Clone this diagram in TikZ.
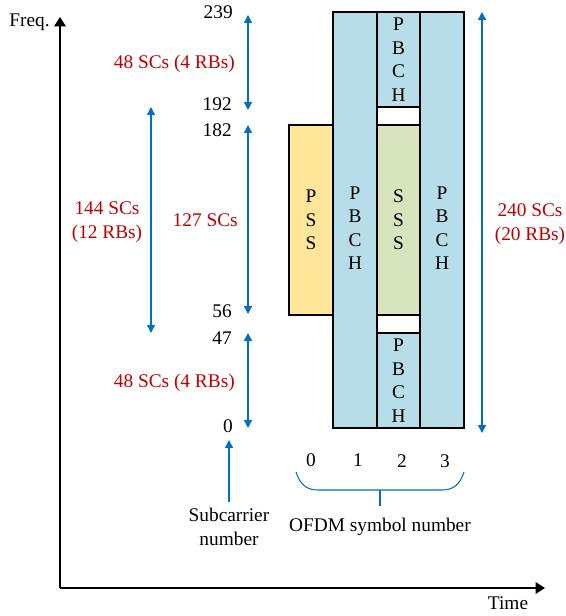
\documentclass[tikz,border=0pt]{standalone}
\usepackage{fontspec}
\setmainfont{Liberation Serif}
\usetikzlibrary{arrows.meta}
\definecolor{sblue}{HTML}{0070C0}
\definecolor{sred}{HTML}{C00000}
\definecolor{pbchc}{HTML}{B7DDE8}
\definecolor{pssc}{HTML}{FFE699}
\definecolor{sssc}{HTML}{D7E4BD}
\tikzset{
  txt/.style={font=\fontsize{14.5}{17.6}\selectfont, inner sep=0pt},
  num/.style={txt, anchor=east},
  redlbl/.style={txt, text=sred, align=center},
  stack/.style={txt, align=center},
  blk/.style={draw=black, line width=1.1pt, inner sep=0pt, minimum width=33pt},
  dimarrow/.style={draw=sblue, line width=1pt, {Triangle[width=6pt,length=6pt]}-{Triangle[width=6pt,length=6pt]}},
  uparrow/.style={draw=sblue, line width=1pt, -{Triangle[width=6pt,length=6pt]}},
  axisline/.style={line width=1.5pt, -{Triangle[width=8.5pt,length=7pt]}},
  bracestyle/.style={draw=sblue, line width=0.8pt}
}
\begin{document}
\begin{tikzpicture}[x=0.75pt, y=-0.75pt]
\useasboundingbox (0,0) rectangle (566,616);

% axes
\coordinate (origin) at (60,588);
\coordinate (ftop) at (60,17);
\coordinate (tend) at (545,588);
\draw[axisline] (origin) -- (ftop);
\draw[axisline] (origin) -- (tend);
\node[txt, anchor=east] (freq) at (50,22) {Freq.};
\node[txt, anchor=base] (time) at (508,609) {Time};

% blocks
\node[blk, fill=pssc, minimum height=142.5pt] (pss) at (311,220) {};
\node[blk, fill=pbchc, minimum height=312pt] (pbch1) at (355,220) {};
\node[blk, fill=pbchc, minimum width=32.25pt, minimum height=71.25pt] (pbcht) at (398.5,59.5) {};
\node[blk, fill=white, minimum width=32.25pt, minimum height=13.5pt] (gapt) at (398.5,116) {};
\node[blk, fill=sssc, minimum width=32.25pt, minimum height=142.5pt] (sss) at (398.5,220) {};
\node[blk, fill=white, minimum width=32.25pt, minimum height=13.5pt] (gapb) at (398.5,324) {};
\node[blk, fill=pbchc, minimum width=32.25pt, minimum height=71.25pt] (pbchb) at (398.5,380.5) {};
\node[blk, fill=pbchc, minimum height=312pt] (pbch3) at (442,220) {};

% block texts
\node[stack] (psst) at (pss) {P\\S\\S};
\node[stack] (pbch1t) at (355,228) {P\\B\\C\\H};
\node[stack] (pbchtt) at (pbcht) {P\\B\\C\\H};
\node[stack] (ssst) at (sss) {S\\S\\S};
\node[stack] (pbchbt) at (pbchb) {P\\B\\C\\H};
\node[stack] (pbch3t) at (442,228) {P\\B\\C\\H};

% subcarrier numbers
\node[num] (n239) at (233,12) {239};
\node[num] (n192) at (232,104) {192};
\node[num] (n182) at (232,130) {182};
\node[num] (n56) at (232,311) {56};
\node[num] (n47) at (232,338) {47};
\node[num] (n0) at (233,426) {0};

% dimension arrows
\coordinate (a1s) at (248,15);  \coordinate (a1e) at (248,110);
\coordinate (a2s) at (248,125); \coordinate (a2e) at (248,314);
\coordinate (a3s) at (248,333); \coordinate (a3e) at (248,428);
\coordinate (a4s) at (151,107); \coordinate (a4e) at (151,333);
\coordinate (a5s) at (482,12);  \coordinate (a5e) at (482,433);
\draw[dimarrow] (a1s) -- (a1e);
\draw[dimarrow] (a2s) -- (a2e);
\draw[dimarrow] (a3s) -- (a3e);
\draw[dimarrow] (a4s) -- (a4e);
\draw[dimarrow] (a5s) -- (a5e);

% red labels
\node[redlbl, anchor=east] (l48t) at (235,64) {48 SCs (4 RBs)};
\node[redlbl, anchor=east] (l48b) at (235,383) {48 SCs (4 RBs)};
\node[redlbl, anchor=east] (l127) at (238,220) {127 SCs};
\node[redlbl] (l144) at (107,222) {144 SCs\\(12 RBs)};
\node[redlbl] (l240) at (530,224) {240 SCs\\(20 RBs)};

% subcarrier number label
\node[txt, align=center] (subc) at (229,527) {Subcarrier\\number};
\coordinate (subtip) at (229,440);
\coordinate (subbase) at (229,502);
\draw[uparrow] (subbase) -- (subtip);

% OFDM symbol numbers
\node[txt] (s0) at (311,460) {0};
\node[txt] (s1) at (358,460) {1};
\node[txt] (s2) at (402,461) {2};
\node[txt] (s3) at (445,461) {3};

% brace
\coordinate (bl) at (296,472);
\coordinate (br) at (464,472);
\coordinate (bmid) at (380,490);
\coordinate (bstem) at (380,506);
\node[txt] (ofdm) at (380,527) {OFDM symbol number};
\draw[bracestyle] (bl) .. controls (300,484) and (306,490) .. (318,490) -- (442,490) .. controls (454,490) and (460,484) .. (br);
\draw[bracestyle] (bmid) -- (bstem);
\end{tikzpicture}
\end{document}
